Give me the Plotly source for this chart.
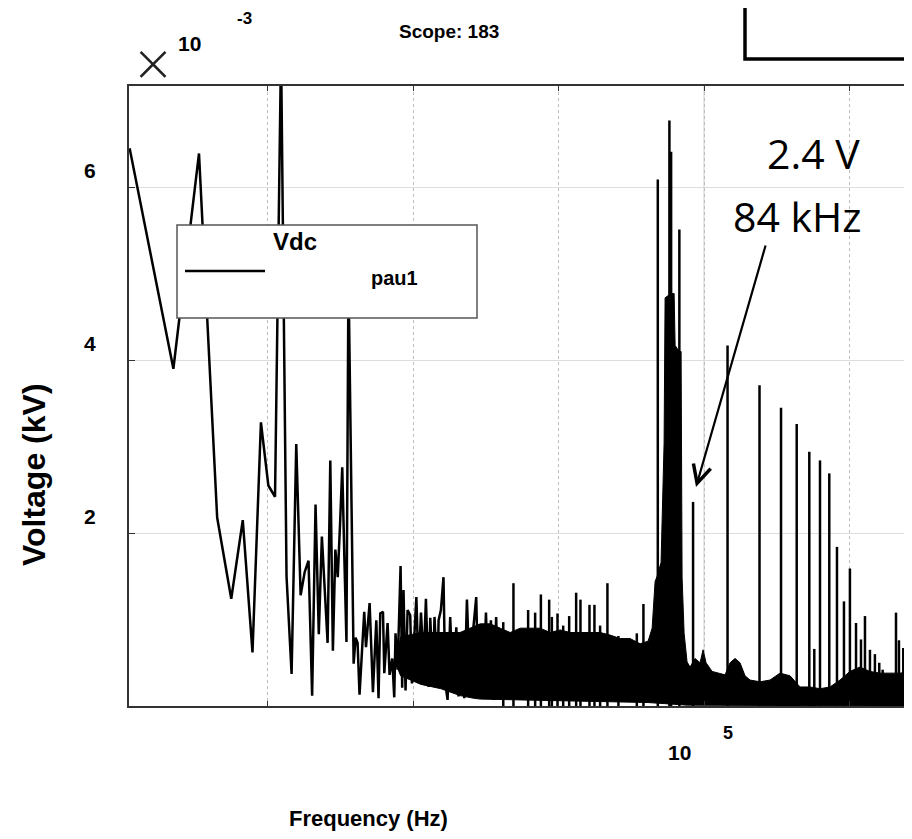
import plotly.graph_objects as go

# ---------------- data (frequency in Hz, magnitude in x1e-3 kV) ----------------
# sparse low-frequency FFT bins
freq_low = [11.2, 22.4, 33.6, 44.8, 56.0, 67.2, 78.4, 89.6, 100.8, 112.0, 123.2, 134.4,
            145.6, 156.8, 168.0, 179.2, 190.4, 201.6, 212.8, 224.0, 235.2, 246.4, 257.6,
            268.8, 280.0, 291.2, 302.4, 313.6, 324.8, 336.0, 347.2, 358.4]
volt_low = [6.45, 3.90, 6.39, 2.18, 1.24, 2.15, 0.62, 3.28, 2.55, 2.42, 7.60, 1.50,
            0.37, 3.03, 1.28, 1.55, 1.68, 0.12, 2.33, 0.83, 1.96, 1.40, 0.73,
            2.84, 0.64, 1.81, 1.49, 2.10, 2.76, 1.70, 0.74, 5.00]

# denser mid-band zig-zag
freq_mid = [389, 401, 414, 427, 460, 473, 501, 528, 557, 577, 593, 619, 632, 666, 687,
            717, 740, 755, 780, 818, 839, 857, 885, 914, 953, 979, 1050, 1087, 1130,
            1178, 1222, 1274, 1309, 1365, 1400, 1469, 1493, 1549, 1614, 1660, 1722,
            1795, 1875, 1977, 2048, 2161, 2244, 2339, 2466, 2570, 2710, 2812, 2917,
            3041, 3162, 3296, 3420, 3565, 3715, 3855]
volt_mid = [0.49, 0.79, 0.73, 0.13, 1.09, 0.68, 1.19, 0.16, 0.99, 0.09, 1.07, 1.09, 0.38,
            0.96, 0.36, 0.55, 0.10, 0.84, 0.42, 1.62, 0.21, 1.34, 0.18, 1.11, 1.05, 0.26,
            1.26, 0.42, 1.08, 0.49, 1.24, 0.22, 1.02, 0.30, 1.03, 0.26, 0.99, 1.11, 1.49,
            0.26, 0.07, 1.03, 0.18, 0.91, 0.11, 0.80, 0.09, 1.23, 0.15, 0.84, 1.26, 0.10,
            0.80, 0.26, 1.08, 0.10, 0.99, 0.07, 1.03, 0.10]

# envelope of the dense noise floor (upper / lower)
env_freq_hi = [755, 818, 1130, 1549, 2100, 2887, 3382, 3961, 4642, 5437, 6368, 7459, 8744,
               10240, 11990, 14050, 16460, 19280, 22580, 26460, 30990, 36310, 41210, 43940,
               46050, 47530, 50600, 52260, 53090, 53930, 59310, 62230, 63220, 67300, 69500,
               70590, 72910, 76400, 80120, 86720, 93870, 98430, 103200, 113500, 124800,
               139400, 150900, 163300, 176700, 191300, 207000, 242500, 284100, 332700,
               390000, 457000, 535400, 627000, 734500, 860500, 1007000, 1181000, 1383000,
               1620000, 1897000, 2223000, 2690000, 3000000]
env_volt_hi = [0.50, 0.80, 0.85, 0.85, 0.85, 0.95, 0.95, 0.90, 0.85, 0.90, 0.90, 0.90, 0.85,
               0.88, 0.85, 0.85, 0.85, 0.85, 0.82, 0.78, 0.78, 0.72, 0.75, 0.90,
               1.44, 1.50, 1.66, 2.79, 3.04, 4.72, 4.77, 4.77, 4.17, 4.10, 4.10,
               1.49, 0.84, 0.51, 0.45, 0.55, 0.50, 0.65, 0.50, 0.40, 0.38,
               0.36, 0.50, 0.55, 0.50, 0.35, 0.30, 0.28, 0.30, 0.38,
               0.35, 0.22, 0.22, 0.20, 0.22, 0.30, 0.40, 0.45, 0.40,
               0.38, 0.38, 0.38, 0.40, 0.40]
env_freq_lo = [755, 818, 1130, 1549, 2100, 2600, 2887, 10240, 41210, 76400, 3000000]
env_volt_lo = [0.50, 0.35, 0.25, 0.20, 0.12, 0.09, 0.08, 0.06, 0.04, 0.01, 0.00]

# isolated spectral lines (switching harmonics, noise peaks)
spike_freq = [4159, 4887, 6166, 6890, 7545, 8604, 8977, 9817, 10740, 11810, 13190, 14120,
              16290, 17620, 19280, 21640, 25760, 34470, 38280,
              48060, 57760, 59330, 67610, 84000, 145000, 240600, 338200, 433600,
              529300, 572800, 627000, 726300, 820400, 916300, 1007000, 1109000, 1200000,
              1278000, 1383000, 1496000, 1603000, 1691000, 2089000, 2189000, 2344000, 2576000]
spike_volt = [0.97, 1.42, 1.11, 1.08, 1.29, 1.23, 1.03, 1.07, 0.93, 1.04, 1.31, 1.23,
              1.17, 1.17, 0.93, 1.42, 0.81, 0.84, 1.18,
              6.09, 6.77, 6.41, 5.51, 2.36, 4.17, 3.71, 3.45, 3.26,
              2.94, 0.66, 2.84, 2.69, 1.84, 1.21, 1.59, 0.96, 0.77,
              1.04, 0.65, 0.60, 0.50, 0.42, 1.08, 0.76, 0.67, 0.86]

x_tick_vals = [1e2, 1e3, 1e4, 1e5, 1e6]
y_tick_vals = [2, 4, 6]
y_tick_text = ["2", "4", "6"]

# ---------------- figure ----------------
# page has an 8 px body margin, so the figure is 8 px smaller than the window
OFF = 8
SCR_W = 912
PL, PT, PB = 129, 86, 706          # plot area edges in window pixels


def px(x):
    return (x - PL) / (SCR_W - PL)


def py(y):
    return (PB - y) / (PB - PT)


fig = go.Figure()

band_x = env_freq_hi + env_freq_lo[::-1]
band_y = env_volt_hi + env_volt_lo[::-1]
fig.add_trace(go.Scatter(x=band_x, y=band_y, mode="lines", fill="toself",
                         fillcolor="black", line=dict(color="black", width=1),
                         hoverinfo="skip", showlegend=False))

fig.add_trace(go.Scatter(x=freq_low + freq_mid, y=volt_low + volt_mid, mode="lines",
                         line=dict(color="black", width=2.5), name="pau1",
                         showlegend=False))

sx, sy = [], []
for f, v in zip(spike_freq, spike_volt):
    sx += [f, f, None]
    sy += [0, v, None]
fig.add_trace(go.Scatter(x=sx, y=sy, mode="lines", line=dict(color="black", width=2.5),
                         hoverinfo="skip", showlegend=False))

bold = "Liberation Sans, Arial, sans-serif"
ann = []


def txt(s, x, y, size, weight="bold", family=bold, angle=0, color="black"):
    ann.append(dict(text=s, x=px(x), y=py(y), xref="paper", yref="paper",
                    showarrow=False, xanchor="center", yanchor="middle", textangle=angle,
                    font=dict(family=family, size=size, color=color, weight=weight)))


txt("Scope: 183", 449, 32, 19)
txt("×", 153, 60, 62, weight=200, family="Inter, DejaVu Sans", color="#222")
txt("10", 189, 43, 21)
txt("-3", 244, 18, 17)
for lab, yy in zip(y_tick_text, [516, 343, 170]):
    txt(lab, 90, yy, 21)
txt("Voltage (kV)", 34, 475, 32, angle=-90)
txt("10", 679, 752, 21)
txt("5", 728, 733, 18)
txt("Frequency (Hz)", 368, 818, 22)
txt("2.4 V", 813, 153, 41, weight="normal", family="Open Sans")
txt("84 kHz", 797, 216, 41, weight="normal", family="Open Sans")
txt("Vdc", 295, 242, 24)
txt("pau1", 394, 278, 20)

ann.append(dict(text="", x=px(696), y=py(487), xref="paper", yref="paper",
                ax=70, ay=-243, axref="pixel", ayref="pixel", showarrow=True,
                arrowhead=5, arrowsize=1.6, arrowwidth=2.2, arrowcolor="black"))

shapes = [
    dict(type="line", xref="x", yref="paper", x0=1e5, x1=1e5, y0=0, y1=1,
         line=dict(color="#dcdcdc", width=1.5), layer="below"),
    dict(type="rect", xref="paper", yref="paper", x0=px(177), x1=px(477), y0=py(318),
         y1=py(225), line=dict(color="#555555", width=1.5), fillcolor="white", layer="above"),
    dict(type="line", xref="paper", yref="paper", x0=px(185), x1=px(265), y0=py(271),
         y1=py(271), line=dict(color="black", width=2.5), layer="above"),
    dict(type="rect", xref="paper", yref="paper", x0=px(745), x1=px(940), y0=py(59),
         y1=py(-30), line=dict(color="black", width=3.5), fillcolor="rgba(0,0,0,0)",
         layer="above"),
]

fig.update_layout(
    width=SCR_W - OFF, height=839 - OFF,
    margin=dict(l=PL - OFF, r=0, t=PT - OFF, b=839 - PB),
    paper_bgcolor="white", plot_bgcolor="white",
    annotations=ann, shapes=shapes, showlegend=False,
    xaxis=dict(type="log", range=[1.045, 6.43], tickvals=x_tick_vals, showticklabels=False,
               ticks="inside", ticklen=5, tickcolor="#333", tickwidth=1,
               showline=True, linecolor="#333", linewidth=1.5, mirror="ticks",
               showgrid=True, griddash="dot", gridcolor="#bdbdbd", gridwidth=1,
               zeroline=False),
    yaxis=dict(range=[0, 7.17], tickvals=y_tick_vals, showticklabels=False,
               ticks="inside", ticklen=6, tickcolor="#333",
               showline=True, linecolor="#333", linewidth=1.5, mirror=False,
               showgrid=True, gridcolor="#dddddd", gridwidth=1, zeroline=False),
)

fig.write_html("out.html")
